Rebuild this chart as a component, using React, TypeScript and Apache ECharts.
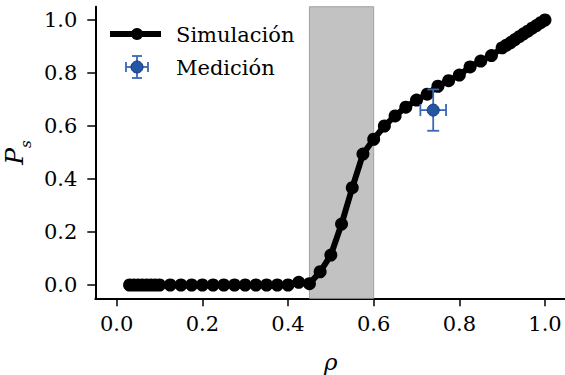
import React, { useEffect, useRef } from "react";
import * as echarts from "echarts";

const rho = [
  0.03, 0.04, 0.05, 0.06, 0.07, 0.08, 0.09, 0.1, 0.125, 0.15, 0.175, 0.2, 0.225, 0.25, 0.275, 0.3,
  0.325, 0.35, 0.375, 0.4, 0.425, 0.45, 0.475, 0.5, 0.525, 0.55, 0.575, 0.6, 0.625, 0.65, 0.675,
  0.7, 0.725, 0.75, 0.775, 0.8, 0.825, 0.85, 0.875, 0.9, 0.91, 0.92, 0.93, 0.94, 0.95, 0.96, 0.97,
  0.98, 0.99, 1.0,
];
const ps = [
  0, 0, 0, 0, 0, 0, 0, 0, 0, 0, 0, 0, 0, 0, 0, 0, 0, 0, 0, 0, 0.01, 0.005, 0.05, 0.113, 0.23, 0.367,
  0.494, 0.55, 0.6, 0.638, 0.671, 0.698, 0.72, 0.75, 0.771, 0.792, 0.823, 0.845, 0.866, 0.895,
  0.905, 0.915, 0.926, 0.937, 0.948, 0.958, 0.969, 0.979, 0.99, 1.0,
];
// measurement: [rho, Ps, rhoErr, PsErr]
const measurement = [[0.739, 0.66, 0.03, 0.078]];
const band = [0.45, 0.6];
const ticks = [0, 0.2, 0.4, 0.6, 0.8, 1.0];

const FONT = "DejaVu Serif";
const BLUE_BAR = "#3a67b8";
const BLUE_FILL = "#2456a6";
const BLUE_EDGE = "#133a78";

export default function App() {
  const ref = useRef<HTMLDivElement>(null);
  useEffect(() => {
    const chart = echarts.init(ref.current!, null, { renderer: "svg" });
    const axisCommon = {
      type: "value" as const,
      min: -0.05,
      max: 1.05,
      splitLine: { show: false },
      axisLine: { show: true, onZero: false, lineStyle: { color: "#000", width: 2 } },
      axisTick: { show: true, customValues: ticks, length: 8, inside: false, lineStyle: { color: "#000", width: 1.5 } },
      axisLabel: {
        customValues: ticks,
        formatter: (v: number) => v.toFixed(1),
        color: "#000",
        fontFamily: FONT,
        fontSize: 21,
      },
    };
    chart.setOption({
      animation: false,
      backgroundColor: "#fff",
      grid: {
        left: 95.3,
        right: -1.4,
        top: 6.75,
        bottom: 76.75,
        containLabel: false,
        outerBoundsMode: "none",
      },
      xAxis: {
        ...axisCommon,
        axisLabel: { ...axisCommon.axisLabel, margin: 15 },
        name: "ρ",
        nameLocation: "middle",
        nameGap: 52,
        nameTextStyle: { fontFamily: FONT, fontStyle: "italic", fontSize: 23, color: "#000" },
      },
      yAxis: {
        ...axisCommon,
        axisLabel: { ...axisCommon.axisLabel, margin: 18 },
        name: "{p|P}{s|s}",
        nameLocation: "middle",
        nameGap: 60,
        nameTextStyle: {
          rich: {
            p: { fontFamily: FONT, fontStyle: "italic", fontSize: 25, color: "#000", verticalAlign: "bottom" },
            s: { fontFamily: FONT, fontStyle: "italic", fontSize: 15, color: "#000", verticalAlign: "bottom", padding: [0, 0, -6, 0] },
          },
        },
      },
      series: [
        {
          name: "Simulación",
          type: "line",
          data: rho.map((r, i) => [r, ps[i]]),
          symbol: "circle",
          symbolSize: 13,
          showSymbol: true,
          color: "#000",
          lineStyle: { color: "#000", width: 6 },
          itemStyle: { color: "#000" },
          z: 3,
          markArea: {
            silent: true,
            itemStyle: { color: "#c1c2c1", borderColor: "#a0a0a0", borderWidth: 1 },
            data: [[{ xAxis: band[0] }, { xAxis: band[1] }]],
          },
        },
        {
          name: "Medición",
          type: "custom",
          z: 4,
          data: measurement,
          renderItem: (params: any, api: any) => {
            const x = api.value(0);
            const y = api.value(1);
            const ex = api.value(2);
            const ey = api.value(3);
            const c = api.coord([x, y]);
            const l = api.coord([x - ex, y]);
            const r = api.coord([x + ex, y]);
            const t = api.coord([x, y + ey]);
            const b = api.coord([x, y - ey]);
            const cap = 6;
            const ls = { stroke: BLUE_BAR, lineWidth: 1.8 };
            return {
              type: "group",
              children: [
                { type: "line", shape: { x1: l[0], y1: c[1], x2: r[0], y2: c[1] }, style: ls },
                { type: "line", shape: { x1: c[0], y1: t[1], x2: c[0], y2: b[1] }, style: ls },
                { type: "line", shape: { x1: l[0], y1: c[1] - cap, x2: l[0], y2: c[1] + cap }, style: ls },
                { type: "line", shape: { x1: r[0], y1: c[1] - cap, x2: r[0], y2: c[1] + cap }, style: ls },
                { type: "line", shape: { x1: c[0] - cap, y1: t[1], x2: c[0] + cap, y2: t[1] }, style: ls },
                { type: "line", shape: { x1: c[0] - cap, y1: b[1], x2: c[0] + cap, y2: b[1] }, style: ls },
                { type: "circle", shape: { cx: c[0], cy: c[1], r: 6 }, style: { fill: BLUE_FILL, stroke: BLUE_EDGE, lineWidth: 1 } },
              ],
            };
          },
        },
      ],
      graphic: [
        { type: "line", shape: { x1: 110, y1: 34, x2: 161, y2: 34 }, style: { stroke: "#000", lineWidth: 6 } },
        { type: "circle", shape: { cx: 137, cy: 34, r: 6 }, style: { fill: "#000" } },
        { type: "text", x: 176, y: 35, style: { text: "Simulación", fontFamily: FONT, fontSize: 21, fill: "#000", verticalAlign: "middle" } },
        { type: "line", shape: { x1: 126, y1: 67, x2: 148, y2: 67 }, style: { stroke: BLUE_BAR, lineWidth: 1.8 } },
        { type: "line", shape: { x1: 137, y1: 56, x2: 137, y2: 78 }, style: { stroke: BLUE_BAR, lineWidth: 1.8 } },
        { type: "line", shape: { x1: 126, y1: 62, x2: 126, y2: 72 }, style: { stroke: BLUE_BAR, lineWidth: 1.8 } },
        { type: "line", shape: { x1: 148, y1: 62, x2: 148, y2: 72 }, style: { stroke: BLUE_BAR, lineWidth: 1.8 } },
        { type: "line", shape: { x1: 132, y1: 56, x2: 142, y2: 56 }, style: { stroke: BLUE_BAR, lineWidth: 1.8 } },
        { type: "line", shape: { x1: 132, y1: 78, x2: 142, y2: 78 }, style: { stroke: BLUE_BAR, lineWidth: 1.8 } },
        { type: "circle", shape: { cx: 137, cy: 67, r: 6 }, style: { fill: BLUE_FILL, stroke: BLUE_EDGE, lineWidth: 1 } },
        { type: "text", x: 176, y: 68, style: { text: "Medición", fontFamily: FONT, fontSize: 21, fill: "#000", verticalAlign: "middle" } },
      ],
    });
    return () => chart.dispose();
  }, []);
  return (
    <div
      ref={ref}
      style={{ position: "fixed", left: 0, top: 0, width: 565, height: 375, background: "#fff" }}
    />
  );
}
